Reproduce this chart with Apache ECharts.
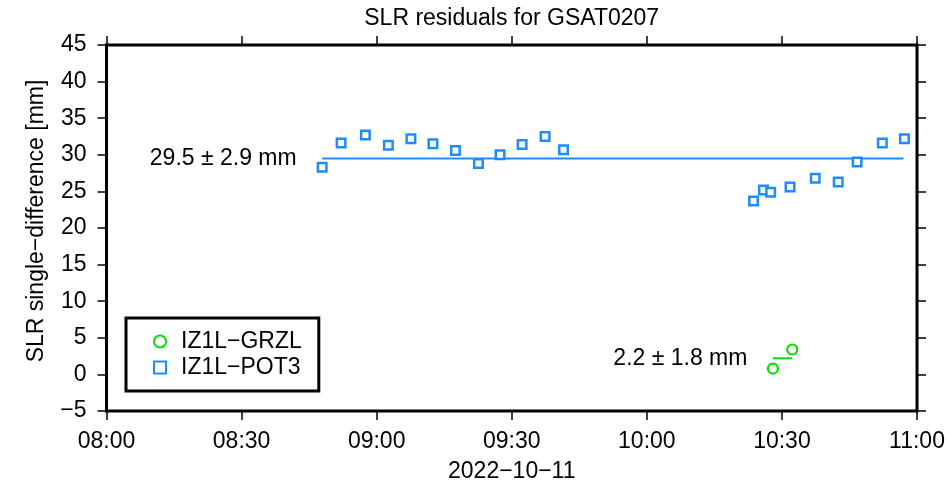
<!DOCTYPE html>
<html>
<head>
<meta charset="utf-8">
<script src="https://cdn.jsdelivr.net/npm/echarts@6/dist/echarts.min.js"></script>
<style>html,body{margin:0;padding:0;background:#fff}#c{width:948px;height:485px}</style>
</head>
<body>
<div id="c"></div>
<script>
// Time in minutes after 08:00 (2022-10-11)
const xTickLabels = ['08:00', '08:30', '09:00', '09:30', '10:00', '10:30', '11:00'];
const yTickLabels = ['\u22125', '0', '5', '10', '15', '20', '25', '30', '35', '40', '45'];

const pot3Minutes = [47.9, 52.1, 57.5, 62.6, 67.6, 72.5, 77.5, 82.6, 87.4, 92.3, 97.4, 101.5,
                     143.7, 145.9, 147.5, 151.8, 157.4, 162.5, 166.7, 172.3, 177.2];
const pot3Values  = [28.3, 31.6, 32.7, 31.3, 32.2, 31.5, 30.6, 28.8, 30.0, 31.4, 32.5, 30.7,
                     23.7, 25.2, 24.9, 25.6, 26.8, 26.3, 29.0, 31.6, 32.2];

const grzlMinutes = [148.0, 152.3];
const grzlValues  = [0.8, 3.4];

const pot3Mean = 29.5, pot3Std = 2.9;
const grzlMean = 2.2, grzlStd = 1.8;
const pot3FitSpan = [47.9, 177.0];
const grzlFitSpan = [148.0, 152.3];

const seriesNames = ['IZ1L\u2212GRZL', 'IZ1L\u2212POT3'];
const BLUE = '#1e8cff', GREEN = '#00e000';
const FONT = "'Liberation Sans', Arial, Helvetica, sans-serif";
const FS = 23;

const zip = (a, b) => a.map((v, i) => [v, b[i]]);

const chart = echarts.init(document.getElementById('c'), null, {renderer: 'canvas'});

const axisTick = {show: true, inside: false, length: 9, lineStyle: {color: '#000', width: 1.5}};
const baseX = {type: 'value', min: 0, max: 180, interval: 30, splitLine: {show: false},
  axisLine: {show: false, onZero: false}, axisTick: axisTick};
const baseY = {type: 'value', min: -5, max: 45, interval: 5, splitLine: {show: false},
  axisLine: {show: false, onZero: false}, axisTick: axisTick};

const annLabel = (txt) => ({show: true, position: 'left', distance: 25, fontSize: FS,
  color: '#000', opacity: 1, fontFamily: FONT, formatter: txt});

chart.setOption({
  animation: false,
  backgroundColor: '#fff',
  textStyle: {fontFamily: FONT},
  title: {
    text: 'SLR residuals for GSAT0207',
    left: 511.7, top: 7, textAlign: 'center', padding: 0,
    textStyle: {fontSize: FS, fontWeight: 'normal', color: '#000', fontFamily: FONT}
  },
  grid: {left: 106.5, right: 31, top: 45, bottom: 74, show: true,
    containLabel: false, outerBoundsMode: 'none',
    borderColor: '#000', borderWidth: 3, backgroundColor: 'transparent'},
  legend: {
    orient: 'vertical', left: 126, top: 318,
    padding: [12, 17, 12, 27],
    itemWidth: 12, itemHeight: 12, itemGap: 3,
    borderColor: '#000', borderWidth: 3, backgroundColor: '#fff',
    textStyle: {fontSize: FS, color: '#000', fontFamily: FONT, padding: [0, 0, 0, 10]},
    data: [{name: seriesNames[0], icon: 'circle'}, {name: seriesNames[1], icon: 'rect'}]
  },
  xAxis: [
    Object.assign({}, baseX, {position: 'bottom',
      axisLabel: {margin: 19, fontSize: FS, color: '#000', fontFamily: FONT,
        formatter: v => xTickLabels[Math.round(v / 30)]},
      name: '2022\u221210\u221211', nameLocation: 'middle', nameGap: 49,
      nameTextStyle: {fontSize: FS, color: '#000', fontFamily: FONT}}),
    Object.assign({}, baseX, {position: 'top', axisLabel: {show: false}})
  ],
  yAxis: [
    Object.assign({}, baseY, {position: 'left',
      axisLabel: {margin: 20, fontSize: FS, color: '#000', fontFamily: FONT,
        formatter: v => yTickLabels[Math.round((v + 5) / 5)]},
      name: 'SLR single\u2212difference [mm]', nameLocation: 'middle', nameGap: 58, nameRotate: 90,
      nameTextStyle: {fontSize: FS, color: '#000', fontFamily: FONT, padding: [0, 0, 0, 14]}}),
    Object.assign({}, baseY, {position: 'right', axisLabel: {show: false}})
  ],
  series: [
    {
      name: seriesNames[0], type: 'scatter', symbol: 'circle', symbolSize: 10,
      itemStyle: {color: '#fff', borderColor: GREEN, borderWidth: 2.2, opacity: 1},
      data: zip(grzlMinutes, grzlValues), z: 4
    },
    {
      name: seriesNames[1], type: 'scatter', symbol: 'rect', symbolSize: 8.5,
      itemStyle: {color: '#fff', borderColor: BLUE, borderWidth: 2.5, opacity: 1},
      data: zip(pot3Minutes, pot3Values), z: 4
    },
    {
      type: 'line', symbol: 'none', lineStyle: {color: BLUE, width: 2},
      data: pot3FitSpan.map(x => [x, pot3Mean]), z: 3, silent: true
    },
    {
      type: 'line', symbol: 'none', lineStyle: {color: GREEN, width: 2},
      data: grzlFitSpan.map(x => [x, grzlMean]), z: 3, silent: true
    },
    {
      type: 'scatter', symbol: 'circle', symbolSize: 1, silent: true, z: 5,
      itemStyle: {color: 'rgba(255,255,255,0)'},
      data: [
        {value: [pot3FitSpan[0], pot3Mean],
         label: annLabel(pot3Mean.toFixed(1) + ' \u00b1 ' + pot3Std.toFixed(1) + ' mm')},
        {value: [grzlFitSpan[0], grzlMean],
         label: annLabel(grzlMean.toFixed(1) + ' \u00b1 ' + grzlStd.toFixed(1) + ' mm')}
      ]
    }
  ]
});
</script>
</body>
</html>
